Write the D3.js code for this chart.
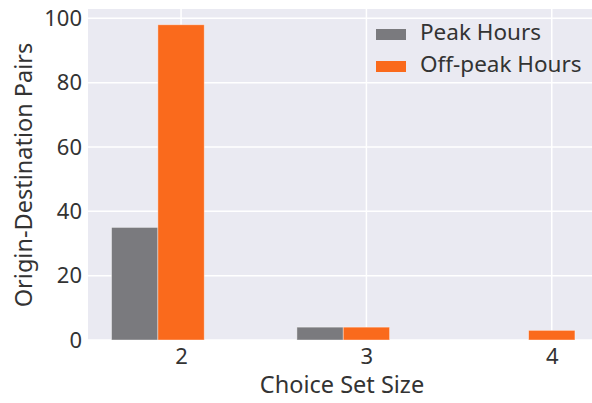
<!DOCTYPE html>
<html><head><meta charset="utf-8">
<script src="https://cdn.jsdelivr.net/npm/d3@7"></script>
<style>body{margin:0;background:#fff;} text{font-family:"Noto Sans","Open Sans",sans-serif;fill:#333;}</style>
</head><body>
<svg id="c" width="592" height="403"></svg>
<script>
const categories = [2, 3, 4];
const peakValues = [35, 4, 0];
const offpeakValues = [98, 4, 3];
const seriesNames = ["Peak Hours", "Off-peak Hours"];
const yTicks = [0, 20, 40, 60, 80, 100];

const colors = ["#7a7a7e", "#fa6a1c"];
const svg = d3.select("#c");
const m = {l: 88, r: 0, t: 9, b: 63};
const W = 592, H = 403;
const x = d3.scaleLinear().domain([1.498, 4.217]).range([m.l, W - m.r]);
const y = d3.scaleLinear().domain([0, 102.9]).range([H - m.b, m.t]);

svg.append("rect").attr("x", m.l).attr("y", m.t).attr("width", W - m.r - m.l).attr("height", H - m.b - m.t).attr("fill", "#eaeaf2");
const g = svg.append("g");
g.selectAll(".gy").data(yTicks).enter().append("line")
  .attr("x1", m.l).attr("x2", W - m.r).attr("y1", d => y(d)).attr("y2", d => y(d))
  .attr("stroke", "#fff").attr("stroke-width", 1.5);
g.selectAll(".gx").data(categories).enter().append("line")
  .attr("y1", m.t).attr("y2", H - m.b).attr("x1", d => x(d)).attr("x2", d => x(d))
  .attr("stroke", "#fff").attr("stroke-width", 1.5);

const bw = 0.25;
const series = [peakValues, offpeakValues];
series.forEach((vals, si) => {
  g.selectAll(".b" + si).data(categories.map((c, i) => ({c, v: vals[i]}))).enter().append("rect")
    .attr("x", d => x(d.c - bw / 2 - (si === 0 ? bw : 0)))
    .attr("width", x(bw) - x(0))
    .attr("y", d => y(d.v))
    .attr("height", d => y(0) - y(d.v))
    .attr("fill", colors[si])
    .attr("stroke", "rgba(255,255,255,0.5)").attr("stroke-width", 0.8);
});

// axes
const yAxis = d3.axisLeft(y).tickValues(yTicks).tickSize(0).tickPadding(6);
const ya = svg.append("g").attr("transform", `translate(${m.l},0)`).call(yAxis);
ya.select(".domain").remove();
ya.selectAll("text").style("font-size", "22px").attr("fill", "#333");

const xAxis = d3.axisBottom(x).tickValues(categories).tickFormat(d3.format("d")).tickSize(0).tickPadding(8);
const xa = svg.append("g").attr("transform", `translate(0,${H - m.b})`).call(xAxis);
xa.select(".domain").remove();
xa.selectAll("text").style("font-size", "22px").attr("fill", "#333");

svg.append("text").attr("x", 342).attr("y", 393).attr("text-anchor", "middle")
  .style("font-size", "23.5px").text("Choice Set Size");
svg.append("text").attr("transform", `translate(32,175) rotate(-90)`).attr("text-anchor", "middle")
  .style("font-size", "23.5px").text("Origin-Destination Pairs");

// legend
const lg = svg.append("g");
seriesNames.forEach((n, i) => {
  lg.append("rect").attr("x", 376).attr("y", 29 + i * 32).attr("width", 30).attr("height", 11).attr("fill", colors[i]);
  lg.append("text").attr("x", 420).attr("y", 40 + i * 32).style("font-size", "22.5px").text(n);
});
</script>
</body></html>
